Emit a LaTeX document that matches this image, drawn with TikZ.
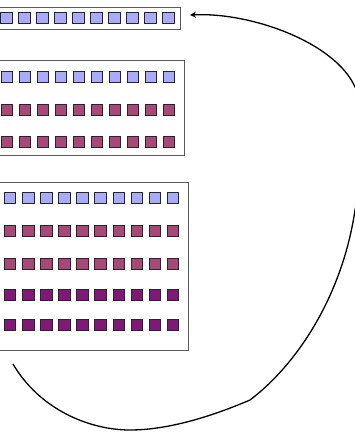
\documentclass[tikz,border=0pt]{standalone}
\usetikzlibrary{arrows.meta}
\definecolor{cLav}{RGB}{170,170,255}
\definecolor{cMag}{RGB}{168,72,120}
\definecolor{cPur}{RGB}{128,24,120}
\definecolor{cBox}{RGB}{90,90,90}
\tikzset{
  boxframe/.style={draw=cBox, line width=0.9pt, fill=white, inner sep=0pt, anchor=north east},
  sq/.style={draw=black!85, line width=1pt, minimum size=11.5pt, inner sep=0pt},
  link/.style={line width=1.3pt, -{Stealth[length=6pt,width=6pt]}}
}
\begin{document}
\begin{tikzpicture}[x=1pt,y=-1pt]
\useasboundingbox (0,0) rectangle (355,432);
\clip (0,0) rectangle (355,432);
% boxes
\node[boxframe, minimum width=191.3pt, minimum height=22.3pt] (b1) at (181.3,6.7) {};
\node[boxframe, minimum width=195pt, minimum height=95pt] (b2) at (185,60) {};
\node[boxframe, minimum width=199.3pt, minimum height=168.3pt] (b3) at (189.3,181.7) {};
% squares box 1
\foreach \i in {0,...,9} {
  \node[sq, fill=cLav] (a-\i) at (6.5+18*\i,18) {};
}
% squares box 2
\foreach \r/\y/\c in {1/77/cLav,2/110/cMag,3/142/cMag} {
  \foreach \i in {0,...,9} {
    \node[sq, fill=\c] (b-\r-\i) at (7.2+18*\i,\y) {};
  }
}
% squares box 3
\foreach \r/\y/\c in {1/198/cLav,2/231/cMag,3/264/cMag,4/295/cPur,5/325/cPur} {
  \foreach \i in {0,...,9} {
    \node[sq, fill=\c] (c-\r-\i) at (10.2+18.1*\i,\y) {};
  }
}
% connector
\coordinate (start) at (13,364);
\coordinate (tip) at (190,15);
\draw[link] (start) .. controls (40,410) and (90,430) .. (130,430)
  .. controls (170,430) and (215,415) .. (250,400)
  .. controls (300,362) and (343,292) .. (355,210)
  .. controls (366,160) and (372,120) .. (355,87)
  .. controls (335,42) and (250,12) .. (tip);
\end{tikzpicture}
\end{document}
